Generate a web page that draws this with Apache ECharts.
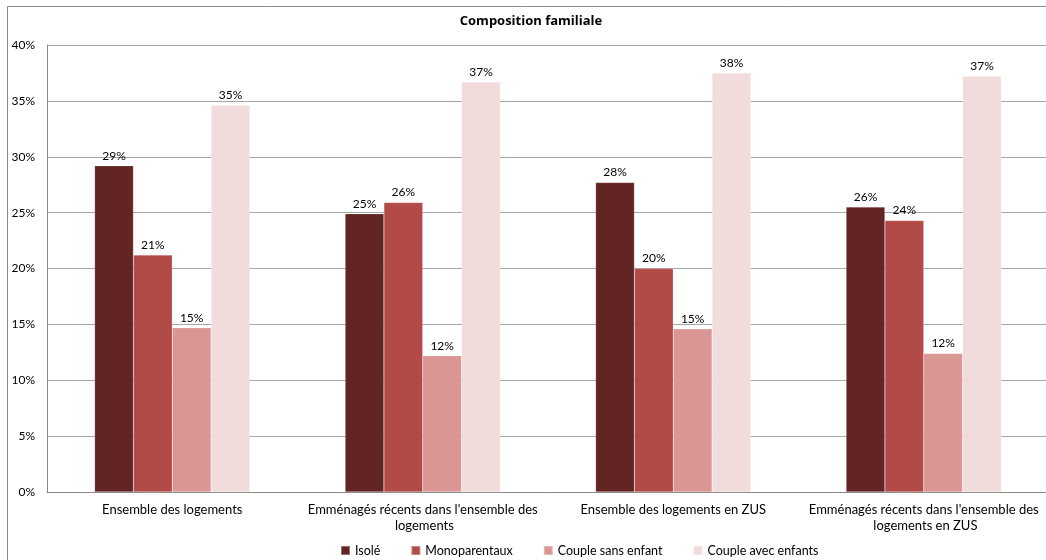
<!DOCTYPE html>
<html>
<head>
<meta charset="utf-8">
<script src="https://cdn.jsdelivr.net/npm/echarts@6/dist/echarts.min.js"></script>
<style>
  html, body { margin: 0; padding: 0; background: #fff; }
  #chart { width: 1046px; height: 560px; }
</style>
</head>
<body>
<div id="chart"></div>
<script>
// Composition familiale — share of households by family type (%)
const categories = [
  "Ensemble des logements",
  "Emménagés récents dans l'ensemble des logements",
  "Ensemble des logements en ZUS",
  "Emménagés récents dans l'ensemble des logements en ZUS"
];
const seriesNames = ["Isolé", "Monoparentaux", "Couple sans enfant", "Couple avec enfants"];
const isole = [29.2, 24.9, 27.7, 25.5];
const monoparentaux = [21.2, 25.9, 20.0, 24.3];
const coupleSansEnfant = [14.7, 12.2, 14.6, 12.4];
const coupleAvecEnfants = [34.6, 36.7, 37.5, 37.2];
const yTicks = { min: 0, max: 40, interval: 5 };

const colors = ["#632523", "#B24A48", "#DA9694", "#F2DCDB"];
const FONT = "Lato, 'Noto Sans', sans-serif";
const values = [isole, monoparentaux, coupleSansEnfant, coupleAvecEnfants];

const chart = echarts.init(document.getElementById('chart'), null, { renderer: 'canvas' });

chart.setOption({
  animation: false,
  textStyle: { fontFamily: FONT },
  title: {
    text: "Composition familiale",
    left: 531, top: 15, textAlign: 'center', padding: 0,
    textStyle: { fontFamily: "'Open Sans', sans-serif", fontSize: 13, fontWeight: 'bold', color: '#000' }
  },
  graphic: [{
    type: 'rect', silent: true, z: -1,
    shape: { x: 7.5, y: 6.5, width: 1100, height: 600 },
    style: { fill: 'none', stroke: '#8a8a8a', lineWidth: 1 }
  }],
  legend: {
    left: 340, top: 544, padding: 0,
    itemWidth: 9, itemHeight: 9, itemGap: 30,
    icon: 'rect',
    textStyle: { fontFamily: FONT, fontSize: 12.5, color: '#000' },
    data: seriesNames
  },
  // plot area runs slightly past the right edge of the canvas
  grid: { left: 47, top: 45, width: 1002, height: 447, containLabel: false, outerBoundsMode: 'none' },
  xAxis: {
    type: 'category',
    data: categories,
    axisLine: { lineStyle: { color: '#8a8a8a' } },
    axisTick: { show: false },
    axisLabel: {
      interval: 0, margin: 10, width: 250, overflow: 'break', lineHeight: 16,
      fontFamily: FONT, fontSize: 13, color: '#000'
    }
  },
  yAxis: {
    type: 'value',
    min: yTicks.min, max: yTicks.max, interval: yTicks.interval,
    axisLine: { show: true, lineStyle: { color: '#8a8a8a' } },
    axisTick: { show: false },
    splitLine: { lineStyle: { color: '#a6a6a6' } },
    axisLabel: { formatter: '{value}%', margin: 12, fontFamily: FONT, fontSize: 12, color: '#000' }
  },
  series: seriesNames.map((name, i) => ({
    name,
    type: 'bar',
    data: values[i],
    barGap: '0%',
    barCategoryGap: '38%',
    itemStyle: { color: colors[i], borderColor: 'rgba(255,255,255,0.35)', borderWidth: 0.5 },
    label: {
      show: true, position: 'top', distance: 4,
      fontFamily: FONT, fontSize: 12, color: '#000',
      formatter: p => Math.round(p.value) + '%'
    }
  }))
});
</script>
</body>
</html>
